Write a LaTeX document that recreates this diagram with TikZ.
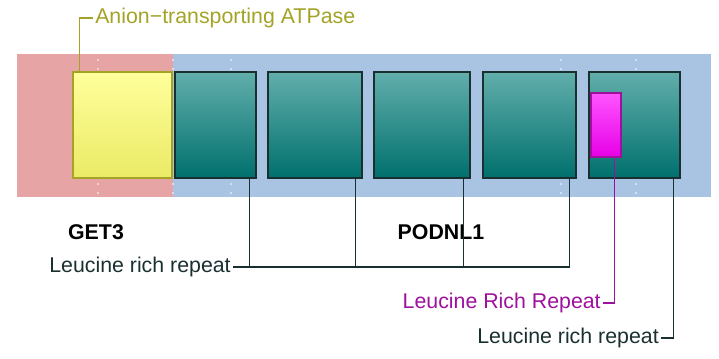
\documentclass[tikz,border=0pt]{standalone}
\usepackage{fontspec}
\setmainfont{Liberation Sans}
\usepackage{xcolor}
\definecolor{getbg}{HTML}{E6A4A4}
\definecolor{podbg}{HTML}{A8C4E2}
\definecolor{tealtop}{HTML}{62AEAB}
\definecolor{tealbot}{HTML}{00706D}
\definecolor{tealline}{HTML}{1A3030}
\definecolor{atpline}{HTML}{A3A326}
\definecolor{atptop}{HTML}{FFFF9C}
\definecolor{atpbot}{HTML}{EAEA66}
\definecolor{lrrmag}{HTML}{9E109E}
\definecolor{magtop}{HTML}{FF55FF}
\definecolor{magbot}{HTML}{E600E6}
\usetikzlibrary{calc}

\newcommand{\px}{0.75pt}

\begin{document}
\begin{tikzpicture}[x=0.75pt, y=-0.75pt,
    lbl/.style={font=\fontsize{16}{19}\selectfont, inner sep=1.5pt},
    dom/.style={draw=tealline, line width=1.1pt, top color=tealtop, bottom color=tealbot,
      minimum height=106*\px, inner sep=0pt},
    conn/.style={draw=tealline, line width=1.1pt}]

  \useasboundingbox (0,0) rectangle (719,358);

  % Hintergrund
  \fill[getbg] (17,54) rectangle (173,197);
  \fill[podbg] (173,54) rectangle (711,197);
  \foreach \x in {98,173,231,561,636}
    \foreach \y in {60,69,184,193}
      \fill[white] (\x,\y) circle (0.8);

  % Domaenen
  \node[dom, draw=atpline, top color=atptop, bottom color=atpbot, minimum width=99*\px] (atp) at (122.5,125) {};
  \foreach \n/\cx/\w in {t1/215.5/81, t2/315/94, t3/422/96, t4/529.5/93, t5/634.5/91}
    \node[dom, minimum width=\w*\px] (\n) at (\cx,125) {};
  \node[dom, draw=lrrmag, top color=magtop, bottom color=magbot, minimum width=30*\px, minimum height=64*\px] (mag) at (606,125) {};

  % Namen
  \node[lbl, font=\fontsize{16}{19}\selectfont\bfseries] (get3) at (96,232) {GET3};
  \node[lbl, font=\fontsize{16}{19}\selectfont\bfseries] (podnl1) at (441,232) {PODNL1};

  % Beschriftungen
  \node[lbl, text=atpline, anchor=west] (atplbl) at (93,18) {Anion{\char"2212}transporting ATPase};
  \node[lbl, text=tealline, anchor=east] (lrr1) at (233,267) {Leucine rich repeat};
  \node[lbl, text=lrrmag, anchor=east] (lrr2) at (603,303) {Leucine Rich Repeat};
  \node[lbl, text=tealline, anchor=east] (lrr3) at (661,338) {Leucine rich repeat};

  % Verbinder
  \foreach \n in {t1,t2,t3,t4,t5}
    \coordinate (c\n) at ($(\n.south east)+(-7.5,0)$);
  \coordinate (cmag) at ($(mag.south east)+(-7,0)$);
  \coordinate (catp) at ($(atp.north west)+(7,0)$);

  \draw[conn] (lrr1.east) -| (ct4);
  \foreach \n in {t1,t2,t3}
    \draw[conn] (c\n) -- (c\n |- lrr1.east);
  \draw[conn, draw=lrrmag] (cmag) |- (lrr2.east);
  \draw[conn] (ct5) |- (lrr3.east);
  \draw[conn, draw=atpline] (catp) |- (atplbl.west);

\end{tikzpicture}
\end{document}
